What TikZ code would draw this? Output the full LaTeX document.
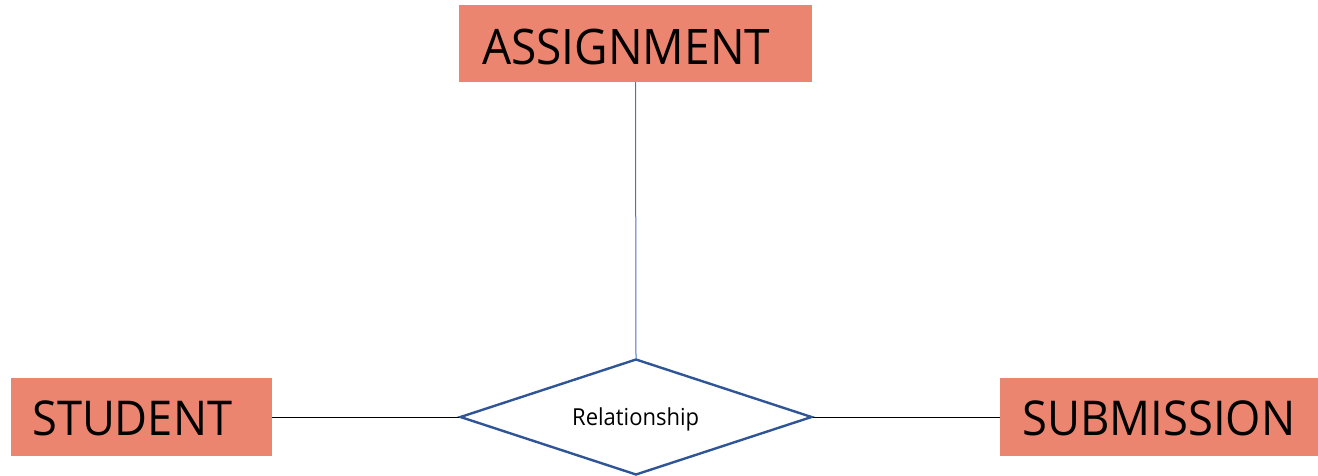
\documentclass[tikz,border=0pt]{standalone}
\usepackage{fontspec}
\usepackage{graphicx}
\setmainfont{Open Sans}
\usetikzlibrary{shapes.geometric}
\definecolor{entityfill}{HTML}{EC8570}
\definecolor{relline}{HTML}{2F5597}
\definecolor{linkblue}{HTML}{4472C4}
% set a label at a given ink width, keeping its natural height
\newcommand{\fitlabel}[3]{\resizebox{#1}{\height}{\fontsize{#2}{#2}\selectfont #3}}
\tikzset{
  entity/.style={fill=entityfill, draw=none, inner sep=0pt},
  entitytext/.style={inner sep=0pt, anchor=base west, text=black},
  relation/.style={diamond, draw=relline, line width=2.4pt, fill=white,
    inner sep=0pt, minimum width=352pt, minimum height=116pt, shape aspect=3.03},
  link/.style={draw=black, line width=1pt},
  uplink/.style={draw=linkblue, line width=1pt}
}
\begin{document}
\begin{tikzpicture}[x=1pt,y=1pt]
\useasboundingbox (0,0) rectangle (1318,475);

% entity boxes
\node[entity, minimum width=353pt, minimum height=77pt] (assign) at (635.5,431.5) {};
\node[entity, minimum width=261pt, minimum height=78pt] (student) at (141.5,58) {};
\node[entity, minimum width=318pt, minimum height=78pt] (submission) at (1159,58) {};

% entity names
\node[entitytext] (assigntext) at (482,410) {\fitlabel{288pt}{49pt}{ASSIGNMENT}};
\node[entitytext] (studenttext) at (32,40) {\fitlabel{200pt}{48pt}{STUDENT}};
\node[entitytext] (submissiontext) at (1022,40) {\fitlabel{273pt}{48pt}{SUBMISSION}};

% relationship diamond
\node[relation] (rel) at (636,58) {};
\node[entitytext] (reltext) at (572,50) {\fitlabel{127pt}{23.4pt}{Relationship}};

% connectors
\draw[link] (student.east) -- (rel.west);
\draw[link] (rel.east) -- (submission.west);
\draw[uplink] (rel.north) -- (assign.south);
\end{tikzpicture}
\end{document}
